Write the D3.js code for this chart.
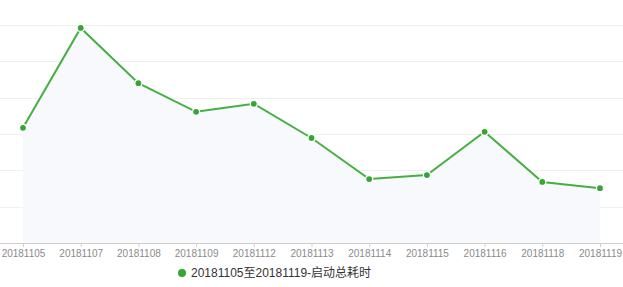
<!DOCTYPE html>
<html>
<head>
<meta charset="utf-8">
<script src="https://cdn.jsdelivr.net/npm/d3@7"></script>
<style>
  html, body { margin: 0; padding: 0; background: #fff; }
  svg { display: block; font-family: "Liberation Sans", Arial, "Noto Sans CJK SC", sans-serif; }
</style>
</head>
<body>
<svg id="chart" width="623" height="287"></svg>
<script>
// x categories (dates)
const dates = ["20181105", "20181107", "20181108", "20181109", "20181112", "20181113",
  "20181114", "20181115", "20181116", "20181118", "20181119"];
// total startup time
const totals = [3.17, 5.92, 4.40, 3.61, 3.83, 2.89, 1.76, 1.87, 3.06, 1.68, 1.51];
const yTicks = [0, 1, 2, 3, 4, 5, 6];
const seriesName = "20181105至20181119-启动总耗时";

const svg = d3.select("#chart");
const green = "#45b041";

const xScale = d3.scalePoint().domain(dates).range([23, 600]);
const yScale = d3.scaleLinear().domain([0, 6]).range([243, 25]);

// grid lines
svg.append("g")
  .selectAll("line")
  .data(yTicks.filter((d) => d > 0))
  .join("line")
  .attr("x1", 0)
  .attr("x2", 623)
  .attr("y1", (d) => Math.round(yScale(d)) + 0.5)
  .attr("y2", (d) => Math.round(yScale(d)) + 0.5)
  .attr("stroke", "#f0f0f2")
  .attr("stroke-width", 1);

// area under the line
const area = d3.area()
  .x((d, i) => xScale(dates[i]))
  .y0(yScale(0))
  .y1((d) => yScale(d));

svg.append("path")
  .datum(totals)
  .attr("d", area)
  .attr("fill", "#f8f9fd");

// x axis
const xAxis = d3.axisBottom(xScale).tickSize(4).tickPadding(3);
const gx = svg.append("g")
  .attr("transform", `translate(0,${yScale(0)})`)
  .call(xAxis);
gx.select(".domain").remove();
gx.append("line")
  .attr("x1", 0).attr("x2", 623)
  .attr("y1", 0.5).attr("y2", 0.5)
  .attr("stroke", "#cfcfcf");
gx.selectAll(".tick line").attr("stroke", "#cfcfcf");
gx.selectAll(".tick text")
  .attr("fill", "#8a8a8a")
  .style("font-size", "10px");

// line
const line = d3.line()
  .x((d, i) => xScale(dates[i]))
  .y((d) => yScale(d));

svg.append("path")
  .datum(totals)
  .attr("d", line)
  .attr("fill", "none")
  .attr("stroke", green)
  .attr("stroke-width", 2);

// points
svg.append("g")
  .selectAll("circle")
  .data(totals)
  .join("circle")
  .attr("cx", (d, i) => xScale(dates[i]))
  .attr("cy", (d) => yScale(d))
  .attr("r", 3.5)
  .attr("fill", "#36a534")
  .attr("stroke", "#fff")
  .attr("stroke-width", 1.2);

// legend
const legend = svg.append("g").attr("transform", "translate(182,273)");
legend.append("circle").attr("r", 4).attr("fill", "#36a534");
legend.append("text")
  .attr("x", 9)
  .attr("dy", "0.35em")
  .attr("fill", "#333")
  .style("font-size", "12px")
  .text(seriesName);
</script>
</body>
</html>
